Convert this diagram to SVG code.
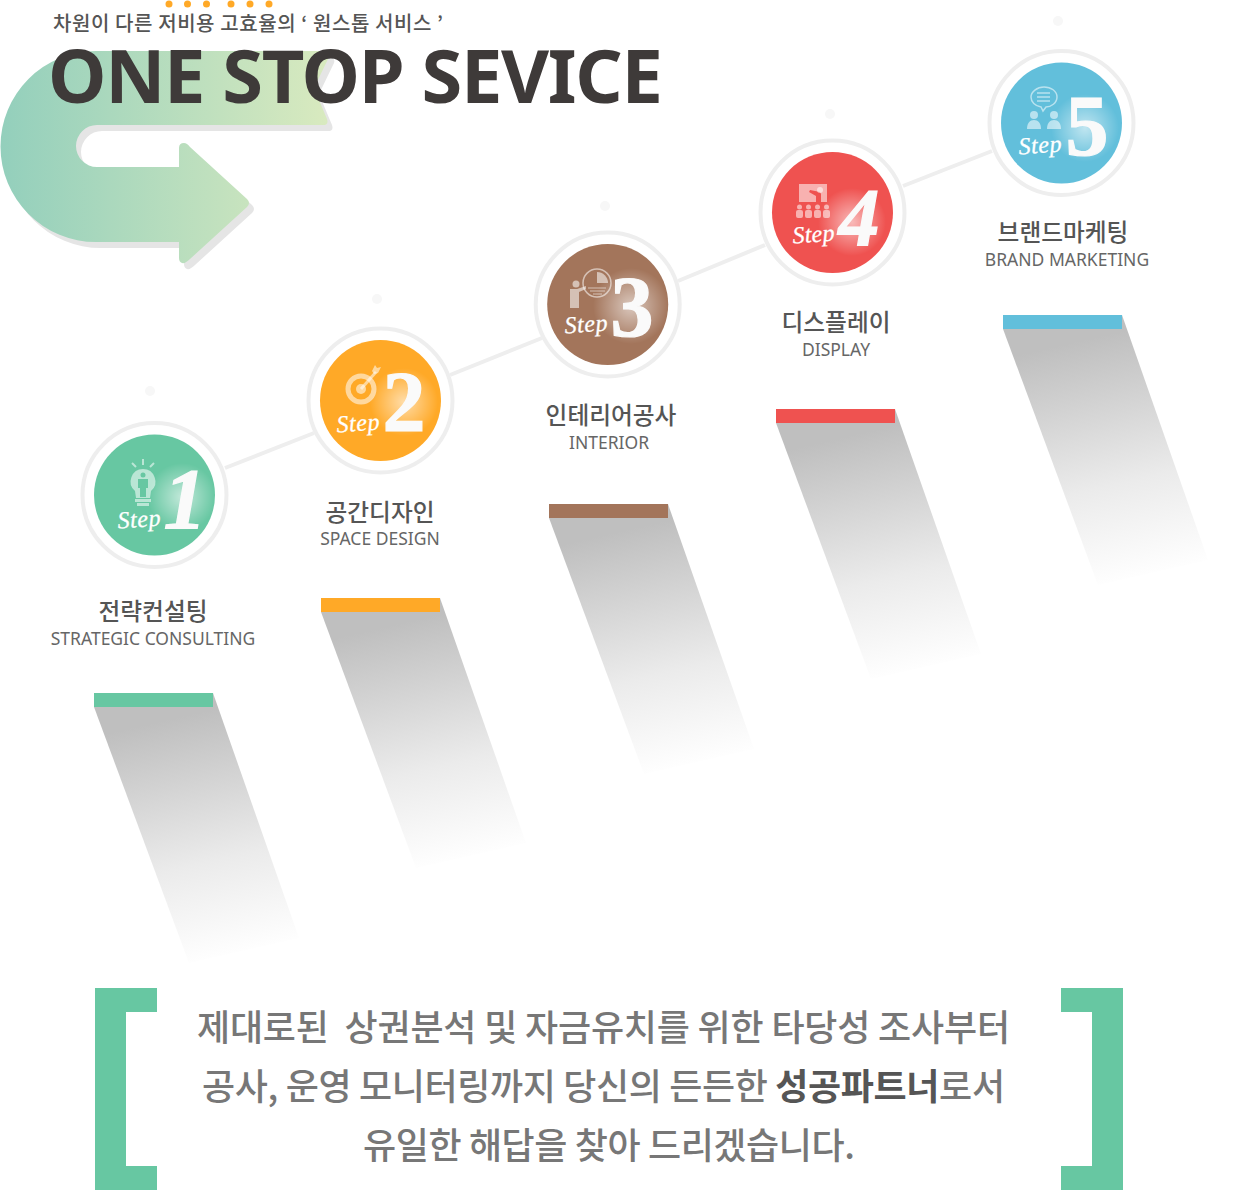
<svg xmlns="http://www.w3.org/2000/svg" width="1250" height="1190" viewBox="0 0 1250 1190">
<style>
.ko{font-family:"Noto Sans CJK KR","Noto Sans",sans-serif}
.sub{font-size:20px;font-weight:500;fill:#555}
.title{font-family:"Noto Sans","Open Sans",sans-serif;font-size:74px;font-weight:700;fill:#3e3a39}
.kl{font-size:23.700px;font-weight:500;fill:#555;text-anchor:middle}
.el{font-family:"Noto Sans","Open Sans",sans-serif;font-size:17.500px;fill:#666;text-anchor:middle}
.ring{fill:#fff;stroke:#eee;stroke-width:4}
.num{font-family:"Liberation Serif",serif;font-weight:700;font-size:86px;fill:#fafafa;stroke:#fafafa;stroke-width:1.200;text-anchor:middle}
.step{font-family:"Liberation Serif",serif;font-style:italic;font-size:24px;fill:#fff;stroke:#fff;stroke-width:.3}
.ic{fill:#fff;fill-opacity:.55}
.ics{fill:none;stroke:#fff;stroke-opacity:.55}
.body{font-size:36px;font-weight:500;fill:#777}
.dot{fill:#f7f7f7}
.con{stroke:#eee;stroke-width:4;fill:none}
.brk{fill:#67c7a2}
</style>
<defs>
<linearGradient id="ag" gradientUnits="userSpaceOnUse" x1="0" y1="0" x2="330" y2="0"><stop offset="0" stop-color="#93cfbc"/><stop offset="1" stop-color="#d9eabf"/></linearGradient>
<linearGradient id="sg" gradientUnits="userSpaceOnUse" x1="95" y1="22" x2="150" y2="262"><stop offset="0" stop-color="#bfbfbf"/><stop offset=".6" stop-color="#ebebeb"/><stop offset="1" stop-color="#fff"/></linearGradient>
<radialGradient id="glow"><stop offset="0" stop-color="#fff" stop-opacity=".6"/><stop offset="1" stop-color="#fff" stop-opacity="0"/></radialGradient>
<polygon id="sh" points="0,14 119,0 205,245 95,270" fill="url(#sg)"/>
<path id="arrow" d="M96 51H322Q331 51 329 57L314 88 327 119Q329 125 323 125H97A21 21 0 0 0 97 167H179V148Q179 143 184 143 187 143 190 147L247 199Q251 203 247 207L190 259Q185 264 182 263 179 262 179 258V242H96A95.500 95.500 0 0 1 96 51Z"/>
</defs>

<g id="header">
<use href="#arrow" x="5" y="6" fill="#e5e5e5"/>
<use href="#arrow" fill="url(#ag)"/>
<g fill="#ffa927"><circle cx="169" cy="4" r="3.500"/><circle cx="187.500" cy="4" r="3.500"/><circle cx="206.500" cy="4" r="3.500"/><circle cx="231" cy="4" r="3.500"/><circle cx="250" cy="4" r="3.500"/><circle cx="269" cy="4" r="3.500"/></g>
<text class="ko sub" x="53" y="31" textLength="390">차원이 다른 저비용 고효율의 ‘ 원스톱 서비스 ’</text>
<text class="title" x="48" y="103" textLength="615">ONE STOP SEVICE</text>
</g>

<g id="connectors">
<line class="con" x1="225" y1="468" x2="314" y2="433"/>
<line class="con" x1="450" y1="375" x2="542" y2="338"/>
<line class="con" x1="678" y1="281" x2="765" y2="245"/>
<line class="con" x1="903" y1="186" x2="992" y2="151"/>
</g>

<g id="decor-dots">
<circle class="dot" cx="150" cy="391" r="5"/><circle class="dot" cx="377" cy="299" r="5"/><circle class="dot" cx="605" cy="206" r="5"/><circle class="dot" cx="830" cy="114" r="5"/><circle class="dot" cx="1058" cy="21" r="5"/>
</g>

<g id="step1">
<use href="#sh" x="94" y="693"/>
<rect x="94" y="693" width="119" height="14" fill="#67c7a2"/>
<circle class="ring" cx="154.500" cy="495" r="72"/>
<circle cx="154.500" cy="495" r="60.500" fill="#67c7a2"/>
<circle cx="182" cy="497" r="34" fill="url(#glow)"/>
<path class="ic" d="M143 469a12.500 12.500 0 0 1 8 22l-1 7h-14l-1-7a12.500 12.500 0 0 1 8-22Z"/>
<circle cx="143" cy="475" r="2.500" fill="#67c7a2"/><path fill="#67c7a2" d="M138 479h10v9h-2v9h-6v-9h-2Z"/>
<rect class="ic" x="135" y="499" width="16" height="3"/><rect class="ic" x="137" y="503" width="12" height="3"/>
<path class="ics" stroke-width="2" d="M143 459v6M132 463l4 4M154 463l-4 4"/>
<text class="num" x="185" y="528" font-style="italic">1</text>
<text class="step" x="118" y="527" textLength="43" transform="rotate(-4 140 527)">Step</text>
<text class="ko kl" x="153" y="620">전략컨설팅</text>
<text class="el" x="153" y="645">STRATEGIC CONSULTING</text>
</g>

<g id="step2">
<use href="#sh" x="321" y="598"/>
<rect x="321" y="598" width="119" height="14" fill="#ffa927"/>
<circle class="ring" cx="380.500" cy="400.500" r="72"/>
<circle cx="380.500" cy="400.500" r="60.500" fill="#ffa927"/>
<circle cx="404" cy="402" r="34" fill="url(#glow)"/>
<circle class="ics" cx="361" cy="389" r="13" stroke-width="5"/><circle class="ic" cx="361" cy="389" r="5"/>
<path class="ics" stroke-width="3" d="M361 389L376 372"/><path class="ic" d="M372 371l3-6 2 3 4-1-3 6-4 1Z"/>
<text class="num" x="404" y="431">2</text>
<text class="step" x="337" y="431" textLength="43" transform="rotate(-4 358 431)">Step</text>
<text class="ko kl" x="380" y="521">공간디자인</text>
<text class="el" x="380" y="545">SPACE DESIGN</text>
</g>

<g id="step3">
<use href="#sh" x="549" y="504"/>
<rect x="549" y="504" width="119" height="14" fill="#a3755b"/>
<circle class="ring" cx="607.700" cy="304.500" r="72"/>
<circle cx="607.700" cy="304.500" r="60.500" fill="#a3755b"/>
<circle cx="631" cy="306" r="38" fill="url(#glow)"/>
<circle class="ics" cx="597" cy="283" r="14" stroke-width="1.500"/><path class="ic" d="M597 272a11 11 0 0 1 11 11h-11Z"/><path class="ics" d="M588 288h18M590 291h15M593 294h9"/>
<circle class="ic" cx="576" cy="284" r="3.500"/><path class="ic" d="M570 289h7l9-3v3l-7 3v16h-9Z"/>
<text class="num" x="632" y="336">3</text>
<text class="step" x="565" y="332" textLength="43" transform="rotate(-4 586 332)">Step</text>
<text class="ko kl" x="611" y="424">인테리어공사</text>
<text class="el" x="609" y="449">INTERIOR</text>
</g>

<g id="step4">
<use href="#sh" x="776" y="409"/>
<rect x="776" y="409" width="119" height="14" fill="#ef5250"/>
<circle class="ring" cx="832.500" cy="212.500" r="72"/>
<circle cx="832.500" cy="212.500" r="60.500" fill="#ef5250"/>
<circle cx="852" cy="222" r="34" fill="url(#glow)"/>
<path class="ic" d="M799 184h28v18h-6v-8l-1-2-10-2-1 2 7 4v6h-17Z"/><circle class="ic" cx="820" cy="190" r="3"/>
<g class="ic"><circle cx="799.500" cy="207" r="2.500"/><rect x="796" y="210" width="7" height="8" rx="2"/><circle cx="808.500" cy="207" r="2.500"/><rect x="805" y="210" width="7" height="8" rx="2"/><circle cx="817.500" cy="207" r="2.500"/><rect x="814" y="210" width="7" height="8" rx="2"/><circle cx="826.500" cy="207" r="2.500"/><rect x="823" y="210" width="7" height="8" rx="2"/></g>
<text class="num" x="859" y="245" font-style="italic" style="font-size:82px">4</text>
<text class="step" x="793" y="242" textLength="42" transform="rotate(-4 814 242)">Step</text>
<text class="ko kl" x="836" y="331">디스플레이</text>
<text class="el" x="836" y="356">DISPLAY</text>
</g>

<g id="step5">
<use href="#sh" x="1003" y="315"/>
<rect x="1003" y="315" width="119" height="14" fill="#62bfdb"/>
<circle class="ring" cx="1061.500" cy="123" r="72"/>
<circle cx="1061.500" cy="123" r="60.500" fill="#62bfdb"/>
<circle cx="1085" cy="128" r="34" fill="url(#glow)"/>
<path class="ics" stroke-width="1.500" d="M1044 87c7 0 13 4 13 10s-6 10-11 10l-3 4-2-4c-6-1-10-5-10-10s6-10 13-10Z"/><path class="ics" stroke-width="1.500" d="M1037 93h13M1037 97h13M1037 101h13"/>
<circle class="ic" cx="1034" cy="115" r="4"/><path class="ic" d="M1027 129c0-6 3-9 7-9s7 3 7 9Z"/>
<circle class="ic" cx="1054" cy="115" r="4"/><path class="ic" d="M1047 129c0-6 3-9 7-9s7 3 7 9Z"/>
<text class="num" x="1087" y="155">5</text>
<text class="step" x="1019" y="153" textLength="43" transform="rotate(-4 1040 153)">Step</text>
<text class="ko kl" x="1063" y="241">브랜드마케팅</text>
<text class="el" x="1067" y="266">BRAND MARKETING</text>
</g>

<g id="summary">
<path class="brk" d="M95 988h62v24h-31v154h31v24H95Z"/>
<path class="brk" d="M1123 988h-62v24h31v154h-31v24h62Z"/>
<text class="ko body" x="197" y="1041" textLength="813" xml:space="preserve">제대로된  상권분석 및 자금유치를 위한 타당성 조사부터</text>
<text class="ko body" x="202" y="1100" textLength="803">공사, 운영 모니터링까지 당신의 든든한 <tspan font-weight="700" fill="#555">성공파트너</tspan>로서</text>
<text class="ko body" x="363" y="1159" textLength="492">유일한 해답을 찾아 드리겠습니다.</text>
</g>
</svg>
